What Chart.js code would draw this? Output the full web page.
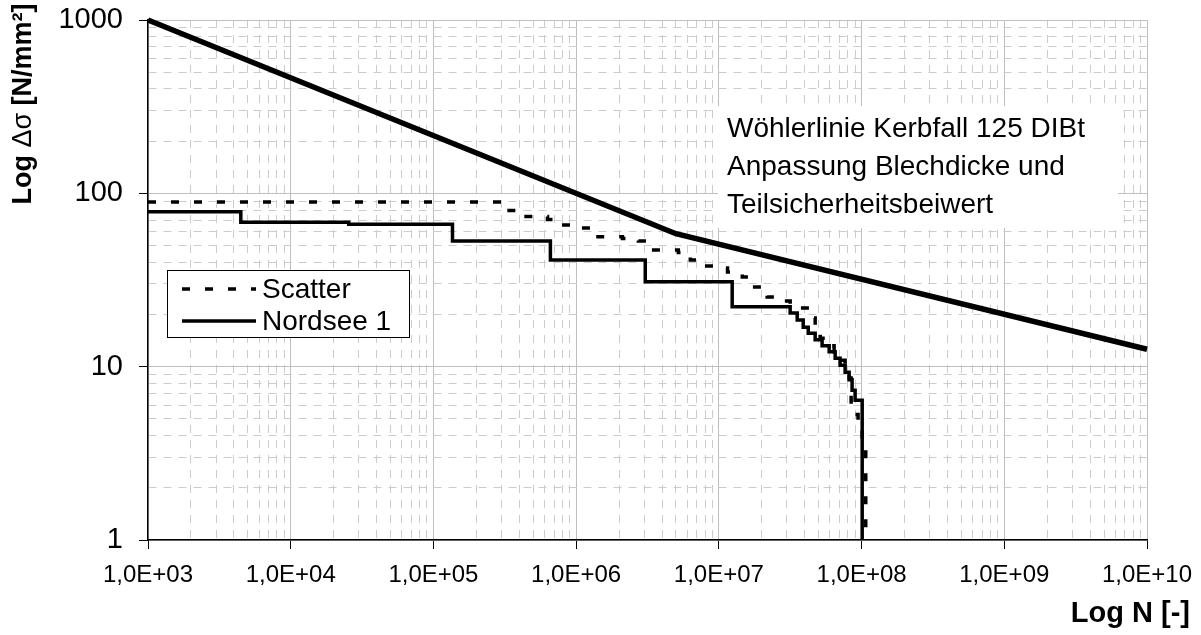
<!DOCTYPE html>
<html>
<head>
<meta charset="utf-8">
<script src="https://cdn.jsdelivr.net/npm/chart.js@4.4.0/dist/chart.umd.min.js"></script>
<style>
  html, body { margin: 0; padding: 0; background: #fff; }
  #wrap { width: 1201px; height: 635px; position: relative; }
</style>
</head>
<body>
<div id="wrap"><canvas id="chart"></canvas></div>
<script>
// Wöhlerlinie Kerbfall 125 (DIBt), angepasst
const wohlerN = [1e3, 5.0e6, 1e10];
const wohlerS = [1000, 58.5, 12.6];

// Kollektiv "Scatter" (Treppenlinie)
const scatterN = [1e3, 3.20e5, 4.21e5, 6.30e5, 7.40e5, 9.89e5, 1.36e6, 2.11e6, 2.73e6, 3.31e6,
                  5.20e6, 6.31e6, 7.06e6, 9.14e6, 1.15e7, 1.46e7, 1.66e7, 2.18e7, 2.82e7, 3.16e7,
                  4.36e7, 4.73e7, 5.13e7, 5.74e7, 6.42e7, 7.07e7, 7.67e7, 8.18e7, 8.45e7, 9.45e7,
                  1.01e8, 1.07e8];
const scatterS = [89.2, 79.5, 73.4, 70.7, 65.7, 63.1, 56.2, 54.9, 53.1, 47.1,
                  45.6, 41.3, 38.1, 37.1, 35.2, 32.9, 28.8, 25.2, 23.9, 21.8,
                  19.1, 16.7, 14.6, 13.2, 12.2, 10.9, 9.8, 8.6, 5.3, 4.3,
                  3.5, 1];

// Kollektiv "Nordsee 1" (Treppenlinie)
const nordseeN = [1e3, 4.47e3, 2.55e4, 1.36e5, 6.6e5, 3.05e6, 1.24e7, 3.16e7, 3.54e7, 3.90e7,
                  4.23e7, 4.73e7, 5.29e7, 5.93e7, 6.53e7, 7.07e7, 7.67e7, 8.18e7, 8.58e7, 9.01e7,
                  1.01e8];
const nordseeS = [78.4, 68.1, 66.3, 53.1, 41.3, 30.9, 22.2, 20.4, 18.6, 16.9,
                  15.6, 14.3, 13.2, 12.2, 11.2, 10.2, 9.3, 8.4, 7.3, 6.4,
                  1];

// Achsen
const xDecades = [1e3, 1e4, 1e5, 1e6, 1e7, 1e8, 1e9, 1e10];
const xTickLabels = ['1,0E+03', '1,0E+04', '1,0E+05', '1,0E+06', '1,0E+07', '1,0E+08', '1,0E+09', '1,0E+10'];
const yDecades = [1, 10, 100, 1000];
const yTickLabels = ['1', '10', '100', '1000'];

const annotationLines = ['Wöhlerlinie Kerbfall 125 DIBt', 'Anpassung Blechdicke und', 'Teilsicherheitsbeiwert'];

const FONT = '"Liberation Sans", Arial, sans-serif';

function toPoints(xs, ys) {
    return xs.map((x, i) => ({ x: x, y: ys[i] }));
}

// Haupt- und Nebenteilung (1..9 je Dekade)
function buildTicks(decades) {
    const ticks = [];
    decades.forEach((d, i) => {
        ticks.push({ value: d, major: true });
        if (i < decades.length - 1) {
            for (let m = 2; m <= 9; m++) ticks.push({ value: d * m, major: false });
        }
    });
    return ticks;
}

const isMinor = (c) => c.tick && !c.tick.major;

function gridOpts() {
    return {
        color: (c) => isMinor(c) ? '#cccccc' : '#bfbfbf',
        lineWidth: 1,
        tickLength: 9,
        tickColor: (c) => isMinor(c) ? 'rgba(0,0,0,0)' : '#000'
    };
}

function borderOpts() {
    return {
        display: true,
        color: '#000',
        width: 1.5,
        dash: (c) => isMinor(c) ? [8, 7] : []
    };
}

// Titel, Textfeld und Legende
const overlay = {
    id: 'overlay',
    beforeDatasetsDraw(chart) {
        const ctx = chart.ctx;
        ctx.save();
        ctx.fillStyle = '#fff';
        ctx.fillRect(718, 106, 400, 122);
        ctx.fillStyle = '#000';
        ctx.font = '28px ' + FONT;
        ctx.textAlign = 'left';
        ctx.textBaseline = 'alphabetic';
        annotationLines.forEach((t, i) => ctx.fillText(t, 727, 137 + i * 38));
        ctx.restore();
    },
    afterDatasetsDraw(chart) {
        const ctx = chart.ctx;
        ctx.save();

        // Legende
        ctx.fillStyle = '#fff';
        ctx.fillRect(167, 270, 242, 68);
        ctx.strokeStyle = '#000';
        ctx.lineWidth = 1;
        ctx.strokeRect(167.5, 270.5, 242, 67);
        const rows = [chart.data.datasets[1], chart.data.datasets[2]];
        rows.forEach((ds, i) => {
            const y = 289 + i * 32;
            ctx.beginPath();
            ctx.setLineDash(ds.borderDash || []);
            ctx.lineWidth = ds.borderWidth;
            ctx.strokeStyle = ds.borderColor;
            ctx.moveTo(182, y);
            ctx.lineTo(256, y);
            ctx.stroke();
            ctx.setLineDash([]);
            ctx.fillStyle = '#000';
            ctx.font = '28px ' + FONT;
            ctx.textBaseline = 'middle';
            ctx.textAlign = 'left';
            ctx.fillText(ds.label, 262, y + 1);
        });

        // y-Achsentitel
        const parts = [['bold 27px ' + FONT, 'Log '], ['27px ' + FONT, 'Δσ'], ['bold 27px ' + FONT, ' [N/mm²]']];
        let total = 0;
        parts.forEach(p => { ctx.font = p[0]; total += ctx.measureText(p[1]).width; });
        ctx.translate(24, 104);
        ctx.rotate(-Math.PI / 2);
        ctx.textBaseline = 'middle';
        ctx.textAlign = 'left';
        let x = -total / 2;
        parts.forEach(p => { ctx.font = p[0]; ctx.fillText(p[1], x, 0); x += ctx.measureText(p[1]).width; });
        ctx.setTransform(1, 0, 0, 1, 0, 0);

        // x-Achsentitel
        ctx.font = 'bold 29px ' + FONT;
        ctx.textAlign = 'right';
        ctx.textBaseline = 'alphabetic';
        ctx.fillText('Log N [-]', 1190, 622);
        ctx.restore();
    }
};

new Chart(document.getElementById('chart'), {
    type: 'line',
    data: {
        datasets: [
            {
                label: 'Wöhlerlinie',
                data: toPoints(wohlerN, wohlerS),
                borderColor: '#000',
                borderWidth: 5.5,
                pointRadius: 0,
                fill: false,
                clip: false
            },
            {
                label: 'Scatter',
                data: toPoints(scatterN, scatterS),
                borderColor: '#000',
                borderWidth: 3.5,
                borderDash: [8, 15],
                stepped: 'before',
                pointRadius: 0,
                fill: false
            },
            {
                label: 'Nordsee 1',
                data: toPoints(nordseeN, nordseeS),
                borderColor: '#000',
                borderWidth: 3.5,
                stepped: 'before',
                pointRadius: 0,
                fill: false
            }
        ]
    },
    options: {
        responsive: true,
        maintainAspectRatio: false,
        animation: false,
        layout: { padding: { top: 20, right: 54, left: 0, bottom: 0 } },
        plugins: {
            legend: { display: false },
            tooltip: { enabled: false }
        },
        scales: {
            x: {
                type: 'logarithmic',
                position: 'bottom',
                min: 1e3,
                max: 1e10,
                afterBuildTicks: (scale) => { scale.ticks = buildTicks(xDecades); },
                afterFit: (scale) => {
                    scale.height = 95;
                    scale.paddingLeft = 0;
                    scale.paddingRight = 0;
                },
                grid: gridOpts(),
                border: borderOpts(),
                ticks: {
                    autoSkip: false,
                    maxRotation: 0,
                    minRotation: 0,
                    padding: 12,
                    color: '#000',
                    font: { family: FONT, size: 24 },
                    callback: (v) => {
                        const i = xDecades.indexOf(v);
                        return i >= 0 ? xTickLabels[i] : '';
                    }
                }
            },
            y: {
                type: 'logarithmic',
                position: 'left',
                min: 1,
                max: 1000,
                afterBuildTicks: (scale) => { scale.ticks = buildTicks(yDecades); },
                afterFit: (scale) => {
                    scale.width = 148;
                    scale.paddingTop = 0;
                    scale.paddingBottom = 0;
                },
                grid: gridOpts(),
                border: borderOpts(),
                ticks: {
                    autoSkip: false,
                    padding: 16,
                    color: '#000',
                    font: { family: FONT, size: 29 },
                    callback: (v) => {
                        const i = yDecades.indexOf(v);
                        return i >= 0 ? yTickLabels[i] : '';
                    }
                }
            }
        }
    },
    plugins: [overlay]
});
</script>
</body>
</html>
